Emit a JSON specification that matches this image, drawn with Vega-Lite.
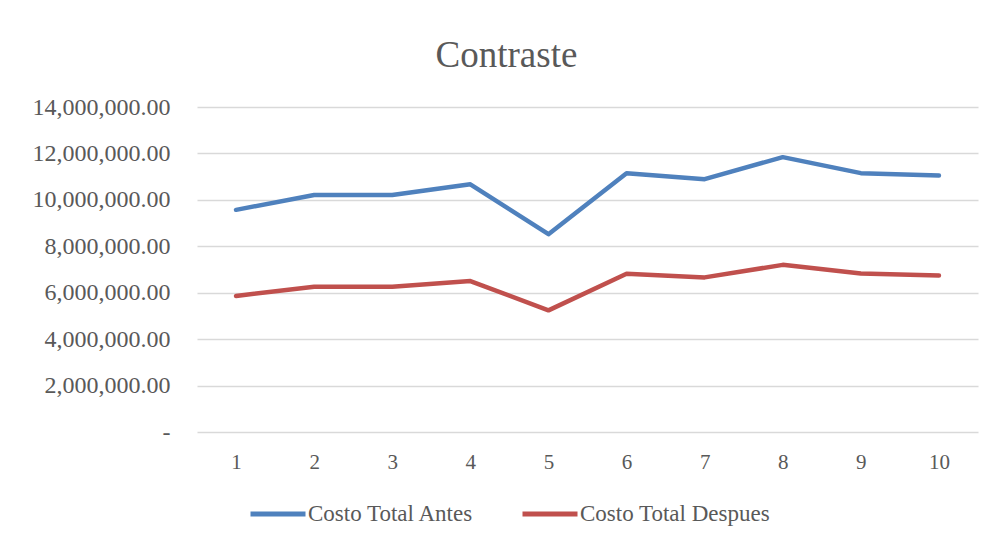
{
  "$schema": "https://vega.github.io/schema/vega-lite/v6.json",
  "autosize": {"type": "none"},
  "width": 781,
  "height": 325,
  "padding": {"left": 197, "top": 107, "right": 17, "bottom": 110},
  "background": "white",
  "title": {
    "text": "Contraste",
    "font": "Liberation Serif",
    "fontSize": 37,
    "fontWeight": "normal",
    "color": "#595959",
    "anchor": "middle",
    "dx": -81,
    "offset": 20
  },
  "data": {
    "values": [
      {"n": 1, "serie": "Costo Total Antes", "valor": 9570000},
      {"n": 2, "serie": "Costo Total Antes", "valor": 10210000},
      {"n": 3, "serie": "Costo Total Antes", "valor": 10210000},
      {"n": 4, "serie": "Costo Total Antes", "valor": 10670000},
      {"n": 5, "serie": "Costo Total Antes", "valor": 8520000},
      {"n": 6, "serie": "Costo Total Antes", "valor": 11150000},
      {"n": 7, "serie": "Costo Total Antes", "valor": 10890000},
      {"n": 8, "serie": "Costo Total Antes", "valor": 11840000},
      {"n": 9, "serie": "Costo Total Antes", "valor": 11150000},
      {"n": 10, "serie": "Costo Total Antes", "valor": 11050000},
      {"n": 1, "serie": "Costo Total Despues", "valor": 5860000},
      {"n": 2, "serie": "Costo Total Despues", "valor": 6260000},
      {"n": 3, "serie": "Costo Total Despues", "valor": 6260000},
      {"n": 4, "serie": "Costo Total Despues", "valor": 6500000},
      {"n": 5, "serie": "Costo Total Despues", "valor": 5240000},
      {"n": 6, "serie": "Costo Total Despues", "valor": 6820000},
      {"n": 7, "serie": "Costo Total Despues", "valor": 6660000},
      {"n": 8, "serie": "Costo Total Despues", "valor": 7200000},
      {"n": 9, "serie": "Costo Total Despues", "valor": 6830000},
      {"n": 10, "serie": "Costo Total Despues", "valor": 6740000}
    ]
  },
  "mark": {"type": "line", "strokeWidth": 4.5, "strokeCap": "round", "strokeJoin": "round"},
  "encoding": {
    "x": {
      "field": "n",
      "type": "ordinal",
      "scale": {"type": "point", "padding": 0.5},
      "axis": {
        "title": null,
        "labelAngle": 0,
        "labelFont": "Liberation Serif",
        "labelFontSize": 21,
        "labelColor": "#595959",
        "labelPadding": 19,
        "ticks": false,
        "domain": false,
        "grid": false
      }
    },
    "y": {
      "field": "valor",
      "type": "quantitative",
      "scale": {"domain": [0, 14000000], "nice": false},
      "axis": {
        "title": null,
        "values": [0, 2000000, 4000000, 6000000, 8000000, 10000000, 12000000, 14000000],
        "labelExpr": "datum.value == 0 ? '-\u00a0\u00a0\u00a0' : format(datum.value, ',.2f')",
        "labelFont": "Liberation Serif",
        "labelFontSize": 24,
        "labelColor": "#595959",
        "labelPadding": 27,
        "ticks": false,
        "domain": false,
        "grid": true,
        "gridColor": "#d9d9d9",
        "gridWidth": 1.5
      }
    },
    "color": {
      "field": "serie",
      "type": "nominal",
      "scale": {"domain": ["Costo Total Antes", "Costo Total Despues"], "range": ["#4f81bd", "#c0504d"]},
      "legend": {
        "title": null,
        "orient": "none",
        "direction": "horizontal",
        "legendX": 51,
        "legendY": 377,
        "symbolType": "stroke",
        "symbolSize": 3025,
        "symbolStrokeWidth": 5,
        "labelFont": "Liberation Serif",
        "labelFontSize": 23,
        "labelLimit": 400,
        "labelColor": "#595959",
        "labelOffset": 0,
        "columnPadding": 38
      }
    }
  },
  "config": {
    "view": {"stroke": null},
    "title": {"font": "Liberation Serif", "fontWeight": "normal"},
    "style": {"group-title": {"font": "Liberation Serif", "fontWeight": "normal"}}
  }
}
